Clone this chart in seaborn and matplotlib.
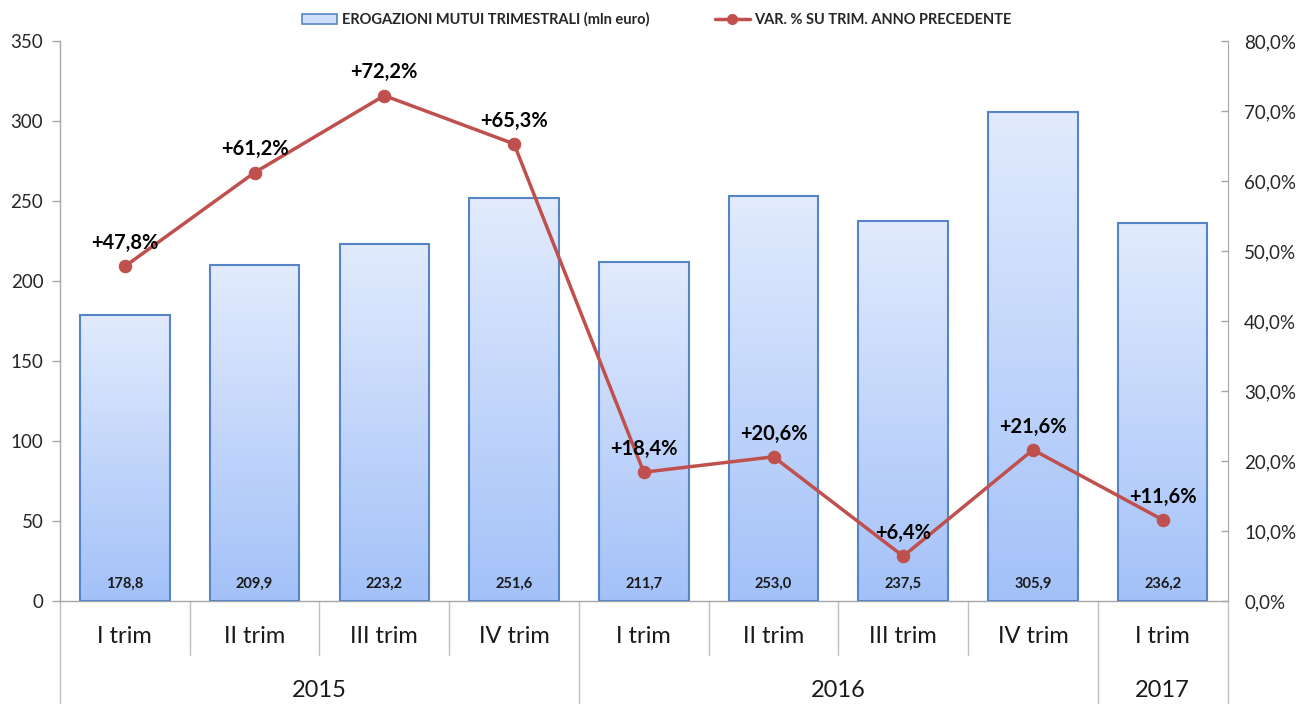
import matplotlib
matplotlib.use("Agg")
import matplotlib.pyplot as plt
import matplotlib.transforms as mtransforms
from matplotlib.colors import LinearSegmentedColormap
from matplotlib.lines import Line2D
from matplotlib.patches import Patch
import numpy as np
import pandas as pd
import seaborn as sns

# ---- dati ----
anni = ["2015", "2015", "2015", "2015", "2016", "2016", "2016", "2016", "2017"]
trimestri = ["I trim", "II trim", "III trim", "IV trim",
             "I trim", "II trim", "III trim", "IV trim", "I trim"]
erogazioni = [178.8, 209.9, 223.2, 251.6, 211.7, 253.0, 237.5, 305.9, 236.2]
var_pct = [47.8, 61.2, 72.2, 65.3, 18.4, 20.6, 6.4, 21.6, 11.6]

def fmt_it(v, dec=1):
    return f"{v:.{dec}f}".replace(".", ",")

df = pd.DataFrame({
    "periodo": [f"{a} {t}" for a, t in zip(anni, trimestri)],
    "erogazioni": erogazioni,
    "var": var_pct,
})

sns.set_style("white")
plt.rcParams["font.family"] = ["Lato", "DejaVu Sans"]

BAR_EDGE = "#5585c6"
LINE_COL = "#c0504d"

fig = plt.figure(figsize=(13.09, 7.04), dpi=100)
ax = fig.add_axes([0.0458, 0.1463, 0.892, 0.7955])

sns.barplot(data=df, x="periodo", y="erogazioni", order=df["periodo"],
            color="#c6d9fa", width=0.69, edgecolor=BAR_EDGE, linewidth=1.5,
            ax=ax, zorder=2)

# gradiente verticale per ogni barra
grad_cmap = LinearSegmentedColormap.from_list("blu", ["#a3c1f8", "#e2ebfd"])
grad = np.linspace(0, 1, 256).reshape(-1, 1)
for bar in list(ax.patches):
    x0, w, h = bar.get_x(), bar.get_width(), bar.get_height()
    im = ax.imshow(grad, extent=[x0, x0 + w, 0, h], origin="lower",
                   aspect="auto", cmap=grad_cmap, zorder=2.5)
    im.set_clip_path(bar)
    bar.set_facecolor("none")
    bar.set_zorder(3)

ax.set_xlim(-0.5, 8.5)
ax.set_ylim(0, 350)
ax.set_yticks(range(0, 351, 50))
ax.tick_params(axis="y", labelsize=13.5, length=6, width=1, color="#a6a6a6",
               left=True, pad=6)
ax.set_xticks([])
ax.set_xlabel("")
ax.set_ylabel("")
for s in ["top", "right"]:
    ax.spines[s].set_visible(False)
for s in ["left", "bottom"]:
    ax.spines[s].set_color("#a6a6a6")
    ax.spines[s].set_linewidth(1)

# valori delle barre
for i, v in enumerate(erogazioni):
    ax.text(i, 11, fmt_it(v), ha="center", va="center", fontsize=10.5,
            fontweight="bold", color="#1a1a1a", zorder=5)

# asse secondario con la variazione %
ax2 = ax.twinx()
sns.lineplot(x=np.arange(len(var_pct)), y=var_pct, ax=ax2, color=LINE_COL,
             linewidth=2.5, marker="o", markersize=9, markeredgecolor=LINE_COL,
             zorder=6)
ax2.set_xlim(-0.5, 8.5)
ax2.set_ylim(0, 80)
ax2.set_yticks(range(0, 81, 10))
ax2.yaxis.set_major_formatter(plt.FuncFormatter(lambda v, p: fmt_it(v) + "%"))
ax2.tick_params(axis="y", labelsize=13.5, length=5, width=1, color="#a6a6a6",
                right=True, direction="in", pad=12)
for s in ["top", "left", "bottom"]:
    ax2.spines[s].set_visible(False)
ax2.spines["right"].set_color("#a6a6a6")
ax2.set_ylabel("")

for i, v in enumerate(var_pct):
    ax2.annotate("+" + fmt_it(v) + "%", (i, v), xytext=(0, 9.5),
                 textcoords="offset points", ha="center", va="bottom",
                 fontsize=14.5, fontweight="bold", color="black", zorder=7)

# asse categorie a due livelli
trans = mtransforms.blended_transform_factory(ax.transData, ax.transAxes)
for i, t in enumerate(trimestri):
    ax.text(i, -0.064, t, transform=trans, ha="center", va="center",
            fontsize=17, color="#1a1a1a")

confini_anno = [-0.5, 3.5, 7.5, 8.5]
for k in range(10):
    xb = k - 0.5
    y_end = -0.185 if xb in confini_anno else -0.097
    ax.plot([xb, xb], [0, y_end], transform=trans, color="#bfbfbf",
            linewidth=1, clip_on=False)

for nome, lo, hi in [("2015", 0, 3), ("2016", 4, 7), ("2017", 8, 8)]:
    ax.text((lo + hi) / 2, -0.159, nome, transform=trans, ha="center",
            va="center", fontsize=17, color="#1a1a1a")

# legenda
handles = [
    Patch(facecolor="#cfdffb", edgecolor=BAR_EDGE, linewidth=1.2),
    Line2D([0], [0], color=LINE_COL, linewidth=2.5, marker="o",
           markersize=7),
]
labels = ["EROGAZIONI MUTUI TRIMESTRALI (mln euro)",
          "VAR. % SU TRIM. ANNO PRECEDENTE"]
fig.legend(handles, labels, loc="center", bbox_to_anchor=(0.502, 0.972),
           ncol=2, frameon=False, columnspacing=4.5,
           handlelength=2.4, handletextpad=0.3,
           prop={"weight": "bold", "size": 10.5})

fig.savefig("out.png", dpi=100)
